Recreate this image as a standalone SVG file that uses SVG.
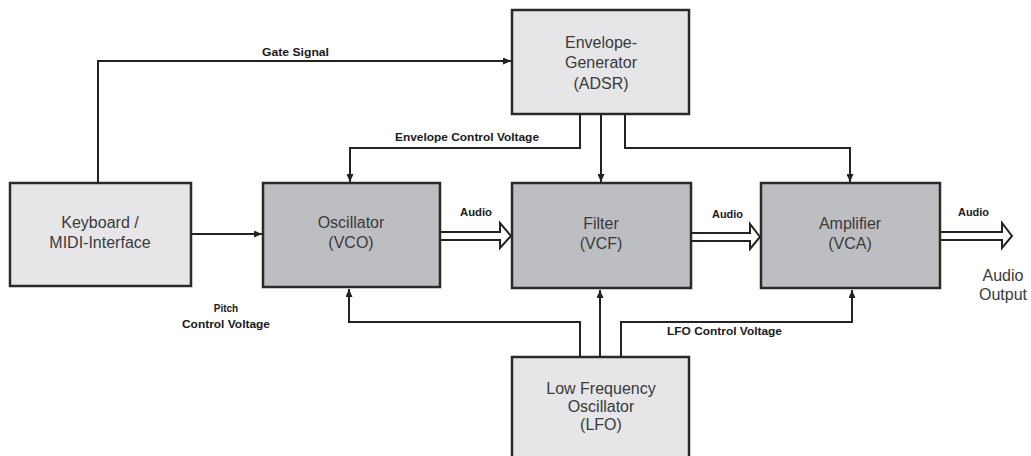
<svg xmlns="http://www.w3.org/2000/svg" width="1031" height="456" viewBox="0 0 1031 456">
<style>
.light{fill:#e6e6e8;stroke:#2a2a2a;stroke-width:2.5}
.dark{fill:#bdbec2;stroke:#2a2a2a;stroke-width:2.5}
.bt{font-family:"Liberation Sans",Arial,sans-serif;font-size:16px;fill:#3a3a3a;text-anchor:middle}
.lt{font-family:"Liberation Sans",Arial,sans-serif;font-size:10px;font-weight:bold;fill:#1a1a1a}
.wire{fill:none;stroke:#222;stroke-width:2;marker-end:url(#ah)}
.wire0{fill:none;stroke:#222;stroke-width:2}
.fat{fill:#fff;stroke:#222;stroke-width:2;stroke-linejoin:miter}
</style>
<defs>
<marker id="ah" markerUnits="userSpaceOnUse" markerWidth="9" markerHeight="7" refX="8" refY="3.5" orient="auto">
<path d="M0,0 L8,3.5 L0,7 z" fill="#222"/>
</marker>
</defs>
<rect width="1031" height="456" fill="#fff"/>
<g id="connectors">
<!-- Gate signal -->
<polyline class="wire" points="98,183 98,61 511,61"/>
<text class="lt" x="262" y="56" textLength="67" lengthAdjust="spacingAndGlyphs">Gate Signal</text>
<!-- Envelope control voltage -->
<polyline class="wire" points="580,114 580,148 350,148 350,182"/>
<text class="lt" x="395" y="141" textLength="144" lengthAdjust="spacingAndGlyphs">Envelope Control Voltage</text>
<polyline class="wire" points="601,114 601,182"/>
<polyline class="wire" points="625,114 625,148 850,148 850,182"/>
<!-- Keyboard to osc -->
<polyline class="wire" points="191,234 262,234"/>
<text class="lt" x="226" y="312" text-anchor="middle">Pitch</text>
<text class="lt" x="182" y="328" textLength="88" lengthAdjust="spacingAndGlyphs">Control Voltage</text>
<!-- Audio arrows -->
<path class="fat" d="M440,232 L500,232 L500,223 L511,236 L500,248 L500,240 L440,240"/>
<text class="lt" x="460" y="216" textLength="32" lengthAdjust="spacingAndGlyphs">Audio</text>
<path class="fat" d="M692,233 L750,233 L750,224 L760,237 L750,249 L750,241 L692,241"/>
<text class="lt" x="712" y="218" textLength="31" lengthAdjust="spacingAndGlyphs">Audio</text>
<path class="fat" d="M940,232 L1002,232 L1002,223 L1012,236 L1002,248 L1002,240 L940,240"/>
<text class="lt" x="958" y="216" textLength="31" lengthAdjust="spacingAndGlyphs">Audio</text>
<text class="bt" x="1003" y="281" font-size="14">Audio</text>
<text class="bt" x="1003" y="300" font-size="14">Output</text>
<!-- LFO -->
<polyline class="wire" points="580,357 580,322 349,322 349,289"/>
<polyline class="wire" points="600,357 600,290"/>
<polyline class="wire" points="621,357 621,322 852,322 852,290"/>
<text class="lt" x="667" y="335" textLength="115" lengthAdjust="spacingAndGlyphs">LFO Control Voltage</text>
</g>
<g id="envelope">
<rect class="light" x="512" y="10" width="177" height="104"/>
<text class="bt" x="601" y="48">Envelope-</text>
<text class="bt" x="601" y="68">Generator</text>
<text class="bt" x="601" y="89">(ADSR)</text>
</g>
<g id="keyboard">
<rect class="light" x="10" y="183" width="181" height="103"/>
<text class="bt" x="100" y="228">Keyboard /</text>
<text class="bt" x="100" y="248">MIDI-Interface</text>
</g>
<g id="oscillator">
<rect class="dark" x="263" y="183" width="177" height="104"/>
<text class="bt" x="351" y="228">Oscillator</text>
<text class="bt" x="351" y="248">(VCO)</text>
</g>
<g id="filter">
<rect class="dark" x="512" y="183" width="179" height="105"/>
<text class="bt" x="601" y="229">Filter</text>
<text class="bt" x="601" y="249">(VCF)</text>
</g>
<g id="amplifier">
<rect class="dark" x="761" y="183" width="179" height="105"/>
<text class="bt" x="850" y="229">Amplifier</text>
<text class="bt" x="850" y="249">(VCA)</text>
</g>
<g id="lfo">
<rect class="light" x="512" y="357" width="177" height="110"/>
<text class="bt" x="601" y="394">Low Frequency</text>
<text class="bt" x="601" y="412">Oscillator</text>
<text class="bt" x="601" y="430">(LFO)</text>
</g>
</svg>
